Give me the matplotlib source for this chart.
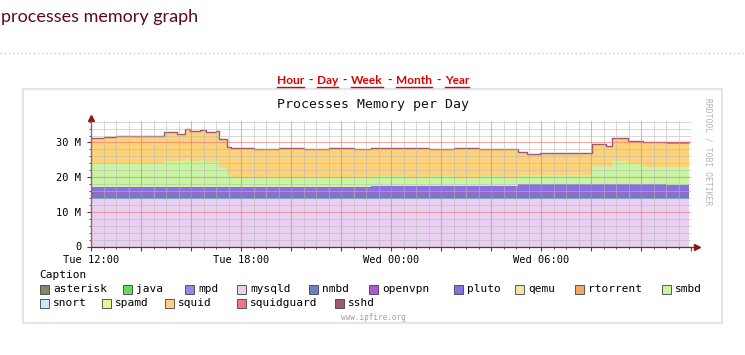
import matplotlib
matplotlib.use('Agg')
import matplotlib.pyplot as plt
import matplotlib.patches as mpatches
from matplotlib.ticker import MultipleLocator, FuncFormatter
import numpy as np

W, H = 745, 355

# hours since Tue 12:00
hours = [0.0, 0.5, 1.0, 1.5, 2.0, 2.5, 2.9, 3.45, 3.75, 3.95, 4.35, 4.6, 5.0, 5.1, 5.45, 5.6,
         6.5, 7.5, 8.5, 9.5, 10.5, 11.2, 12.5, 13.5, 14.5, 15.5, 16.5, 17.08, 17.45, 17.95,
         19.0, 20.04, 20.6, 20.84, 21.48, 21.6, 22.08, 23.0, 23.92]
n = len(hours)

# memory per process, in M
asterisk = [0.0] * n
java = [0.0] * n
mpd = [0.0] * n
mysqld = [13.6] * n
nmbd = [1.7] * n
openvpn = [0.6] * n
pluto = [1.4] * 21 + [1.6] * 6 + [2.1] * 10 + [1.7] * 2
qemu = [0.0] * n
rtorrent = [0.0] * n
smbd = [6.5, 6.5, 6.4, 6.5, 6.5, 6.5, 7.5, 7.3, 7.9, 7.3, 7.6, 7.2, 7.4, 5.3, 3.4, 2.7,
        2.7, 2.8, 2.7, 2.8, 2.7, 2.7, 2.6, 2.7, 2.6, 2.7, 2.6, 2.7, 2.6, 2.7,
        2.7, 5.1, 4.9, 6.7, 6.2, 5.9, 4.9, 5.2, 5.2]
snort = [0.0] * n
spamd = [0.0] * n
squid = [7.2, 7.6, 7.9, 7.7, 7.8, 7.9, 7.9, 7.5, 8.3, 8.3, 8.4, 8.2, 8.4, 8.1, 7.6, 8.0,
         7.9, 8.0, 7.9, 7.9, 7.9, 7.9, 7.9, 7.6, 7.9, 7.7, 7.6, 6.4, 5.7, 5.9,
         5.9, 6.1, 5.9, 6.2, 6.0, 6.3, 6.9, 6.9, 6.9]
squidguard = [0.1] * n
sshd = [0.2] * n

names = ['asterisk', 'java', 'mpd', 'mysqld', 'nmbd', 'openvpn', 'pluto', 'qemu',
         'rtorrent', 'smbd', 'snort', 'spamd', 'squid', 'squidguard', 'sshd']
series = [asterisk, java, mpd, mysqld, nmbd, openvpn, pluto, qemu,
          rtorrent, smbd, snort, spamd, squid, squidguard, sshd]
colors = ['#808868', '#66d866', '#8c8ce6', '#e9d0f2', '#6a7fc6', '#b05ac8', '#8870e0',
          '#f5e2a8', '#f0a868', '#c8f5a0', '#c8ecf8', '#e0fa90', '#fdd278', '#f07888',
          '#a05a6a']

x_tick_pos = [0, 6, 12, 18]
x_tick_labels = ['Tue 12:00', 'Tue 18:00', 'Wed 00:00', 'Wed 06:00']

mono = 'DejaVu Sans Mono'


def fx(x):
    return x / W


def fy(y):
    return 1 - y / H


fig = plt.figure(figsize=(W / 100, H / 100), dpi=100)
fig.patch.set_facecolor('white')

# page header
fig.text(fx(1), fy(17), 'processes memory graph', family='Lato', fontsize=13,
         color='#5c0a1a', va='center', ha='left')
fig.add_artist(plt.Line2D([0, 1], [fy(53), fy(53)], transform=fig.transFigure,
                          color='#c8c8c8', lw=1, ls=(0, (1, 2))))

# period links
renderer = fig.canvas.get_renderer()
links = ['Hour', 'Day', 'Week', 'Month', 'Year']
gap = 13
txts = []
widths = []
for s in links:
    t = fig.text(0, fy(80), s, family='Lato', weight='bold', fontsize=8.6,
                 color='#dd0000', va='center', ha='left')
    widths.append(t.get_window_extent(renderer).width)
    txts.append(t)
total = sum(widths) + gap * (len(links) - 1)
x = 373 - total / 2
for i, (t, w) in enumerate(zip(txts, widths)):
    t.set_x(fx(x))
    fig.add_artist(plt.Line2D([fx(x), fx(x + w)], [fy(86.5), fy(86.5)],
                              transform=fig.transFigure, color='#dd0000', lw=1))
    if i < len(links) - 1:
        fig.text(fx(x + w + gap / 2), fy(80), '-', family='Lato', weight='bold',
                 fontsize=8.6, color='#333333', va='center', ha='center')
    x += w + gap

# graph frame
fig.add_artist(mpatches.Rectangle((fx(23), fy(323)), fx(722 - 23), (323 - 89) / H,
                                  transform=fig.transFigure, facecolor='white',
                                  edgecolor='#e4e4ea', lw=1.5, zorder=-5))

ax = fig.add_axes([fx(91), fy(246.5), fx(600), (246.5 - 121) / H])
ax.set_zorder(2)
ax.patch.set_alpha(0)
ax.stackplot(hours, *series, colors=colors, step='post', linewidth=0)
tot = np.sum(np.array(series), axis=0)
ax.step(hours, tot, where='post', color='#a05a6a', lw=1)

ax.set_xlim(0, 24)
ax.set_ylim(0, 36.2)
ax.xaxis.set_major_locator(MultipleLocator(2))
ax.xaxis.set_minor_locator(MultipleLocator(0.5))
ax.yaxis.set_major_locator(MultipleLocator(10))
ax.yaxis.set_minor_locator(MultipleLocator(2))
ax.grid(which='minor', color='#b8b8b8', lw=0.7, alpha=0.55)
ax.grid(which='major', color='#f07070', lw=0.8, alpha=0.6)
ax.set_axisbelow(False)


def xfmt(v, pos):
    for p, lab in zip(x_tick_pos, x_tick_labels):
        if abs(v - p) < 1e-6:
            return lab
    return ''


ax.xaxis.set_major_formatter(FuncFormatter(xfmt))
ax.yaxis.set_major_formatter(FuncFormatter(lambda v, p: '0' if v == 0 else '%d M' % v))
ax.tick_params(which='major', length=3, width=0.8, color='#703030', pad=3,
               labelsize=7.5, labelfontfamily=mono)
ax.tick_params(which='minor', length=1.5, width=0.6, color='#703030')
ax.tick_params(axis='y', pad=4)

for s in ['top', 'right']:
    ax.spines[s].set_visible(False)
for s in ['left', 'bottom']:
    ax.spines[s].set_color('#603030')
    ax.spines[s].set_linewidth(0.9)
ax.plot([0, 0], [1, 1.02], transform=ax.transAxes, clip_on=False, color='#603030', lw=0.9)
ax.plot([0], [1.025], marker='^', ms=4, color='#8b1a1a', transform=ax.transAxes, clip_on=False)
ax.plot([1, 1.0083], [0, 0], transform=ax.transAxes, clip_on=False, color='#603030', lw=0.9)
ax.plot([1.01], [0], marker='>', ms=4, color='#8b1a1a', transform=ax.transAxes, clip_on=False)

fig.text(fx(373), fy(104), 'Processes Memory per Day', family=mono, fontsize=9.5,
         ha='center', va='center', color='#111111')
fig.text(fx(708), fy(152), 'RRDTOOL / TOBI OETIKER', family=mono, fontsize=5.8,
         rotation=270, ha='center', va='center', color='#b4b4b4')

# caption / legend
fig.text(fx(39), fy(275), 'Caption', family=mono, fontsize=8, va='center')
leg_x = [40, 123, 185, 237, 309, 369, 454, 515, 575, 662, 40, 102, 165, 237, 335]
for i, (name, c) in enumerate(zip(names, colors)):
    yy = 289 if i < 10 else 303
    fig.add_artist(mpatches.Rectangle((fx(leg_x[i]), fy(yy + 4.5)), 9 / W, 9 / H,
                                      transform=fig.transFigure, facecolor=c,
                                      edgecolor='#404040', lw=0.6))
    fig.text(fx(leg_x[i] + 13), fy(yy), name, family=mono, fontsize=8, va='center')

fig.text(fx(373), fy(317), 'www.ipfire.org', family=mono, fontsize=5.5,
         ha='center', va='center', color='#a0a0a0')

fig.savefig('out.png', dpi=100)
